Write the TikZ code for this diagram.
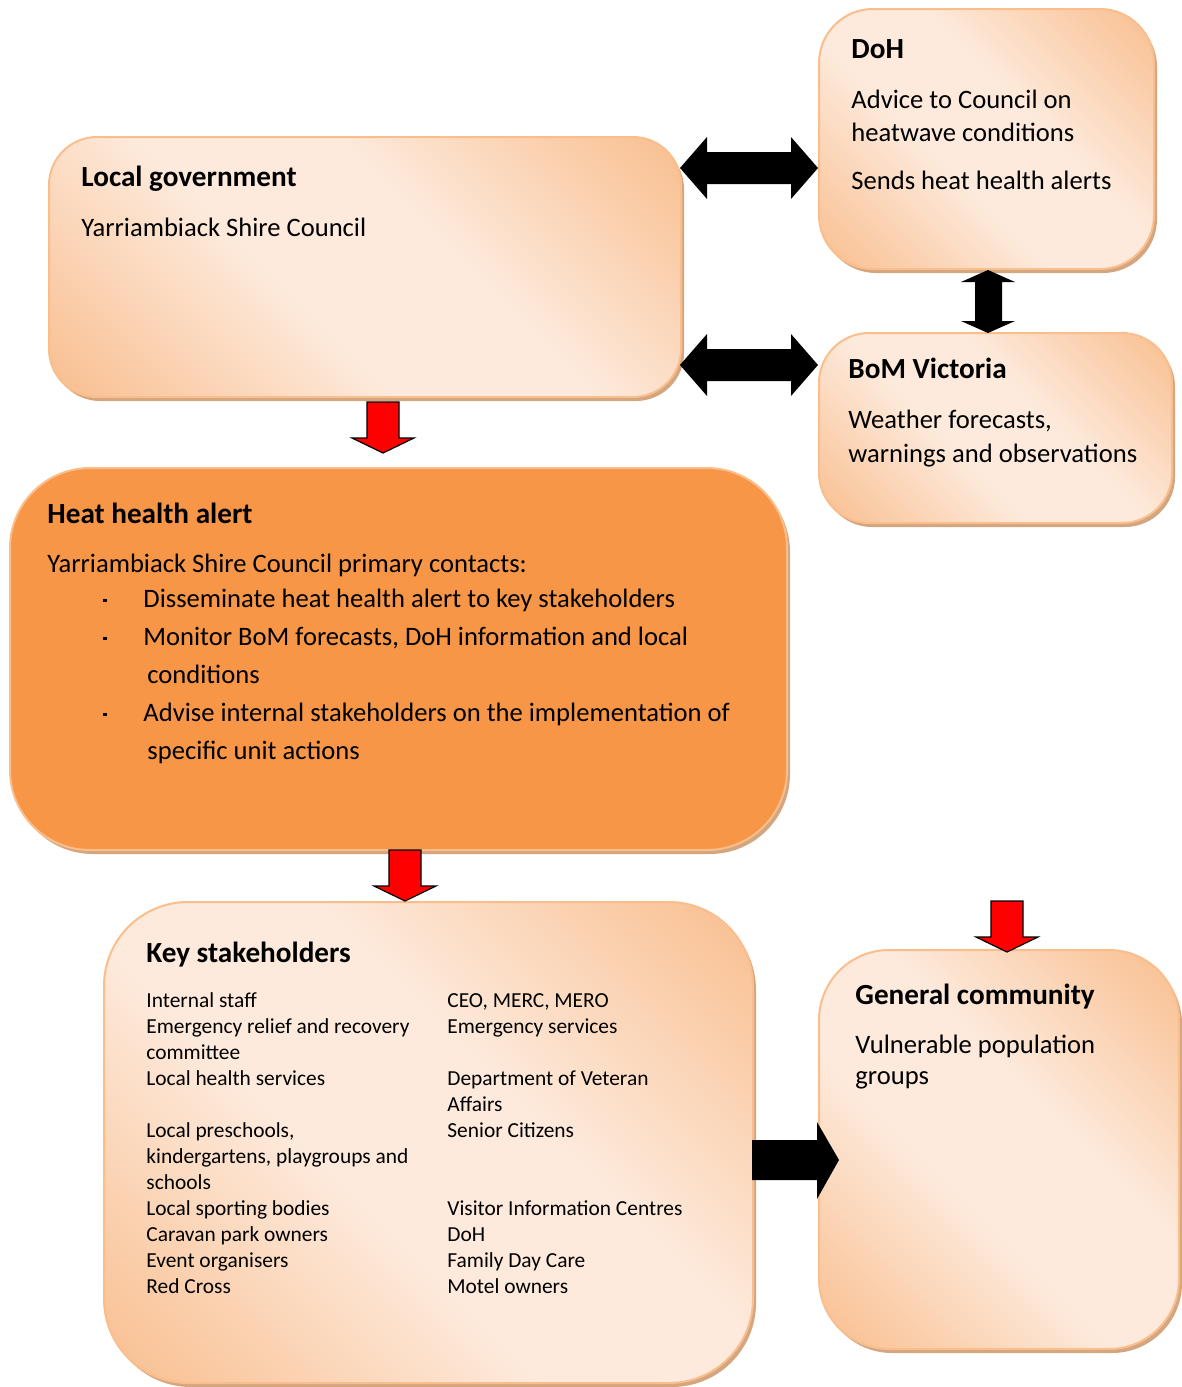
\documentclass[tikz,border=0pt]{standalone}
\usepackage{fontspec}
\setmainfont{Carlito}
\usetikzlibrary{shadows}
\definecolor{peachdark}{RGB}{249,192,146}
\definecolor{peachlight}{RGB}{253,234,220}
\definecolor{peachedge}{RGB}{250,190,140}
\definecolor{alertorange}{RGB}{247,150,70}
\definecolor{boxshadow}{RGB}{212,166,128}
\pgfdeclareverticalshading{peachband}{100bp}{color(0bp)=(peachdark); color(16bp)=(peachdark); color(42bp)=(peachlight); color(58bp)=(peachlight); color(84bp)=(peachdark); color(100bp)=(peachdark)}
\tikzstyle{box}=[anchor=north west, inner sep=0pt, draw=peachedge, line width=1pt, drop shadow={shadow xshift=1.5pt, shadow yshift=-2pt, fill=boxshadow, opacity=1}]
\tikzstyle{softbox}=[box, shade, shading=peachband, shading angle=-45]
\tikzstyle{alertbox}=[box, fill=alertorange]
\tikzstyle{boxtitle}=[anchor=base west, inner sep=0pt, font=\bfseries\fontsize{14.6}{17}\selectfont]
\tikzstyle{boxtext}=[anchor=base west, inner sep=0pt, font=\fontsize{13.3}{16.5}\selectfont]
\tikzstyle{listtext}=[anchor=base west, inner sep=0pt, font=\fontsize{10.7}{13}\selectfont]
\tikzstyle{redarrow}=[fill=red, draw=black, line width=0.6pt, line join=miter]
\newcommand{\sqbullet}{\rule[2.6pt]{1.6pt}{1.6pt}}

\begin{document}
\begin{tikzpicture}[x=0.5pt,y=-0.5pt]
\useasboundingbox (0,0) rectangle (1182,1387);
% boxes
\node[softbox, minimum width=316pt, minimum height=130pt, rounded corners=24pt] (lg) at (48,136) {};
\node[softbox, minimum width=167.5pt, minimum height=130pt, rounded corners=27pt] (doh) at (818,8) {};
\node[softbox, minimum width=176.5pt, minimum height=95pt, rounded corners=25pt] (bom) at (818,332) {};
\node[alertbox, minimum width=388.5pt, minimum height=191pt, rounded corners=40pt] (hha) at (9,467) {};
\node[softbox, minimum width=324.5pt, minimum height=240.5pt, rounded corners=42pt] (ks) at (103,901) {};
\node[softbox, minimum width=180pt, minimum height=199.5pt, rounded corners=35pt] (gc) at (818,949) {};

% local government
\node[boxtitle] (lgtitle) at (81,186) {Local government};
\node[boxtext] (lgtext) at (81,236) {Yarriambiack Shire Council};

% DoH
\node[boxtitle] (dohtitle) at (851,58) {DoH};
\node[boxtext] (dohtext) at (851,108) {\begin{tabular}[t]{@{}l@{}}Advice to Council on\\heatwave conditions\end{tabular}};
\node[boxtext] (dohalerts) at (851,189) {Sends heat health alerts};

% BoM
\node[boxtitle] (bomtitle) at (848,378) {BoM Victoria};
\node[boxtext, font=\fontsize{13.3}{17}\selectfont] (bomtext) at (848,428) {\begin{tabular}[t]{@{}l@{}}Weather forecasts,\\warnings and observations\end{tabular}};

% heat health alert
\node[boxtitle] (hhatitle) at (47,523) {Heat health alert};
\node[boxtext] (hhaintro) at (47,572) {Yarriambiack Shire Council primary contacts:};
\node[boxtext, font=\fontsize{13.3}{19}\selectfont] (hhalist) at (103,607) {\begin{tabular}[t]{@{}p{20pt}@{}l@{}}
\sqbullet & Disseminate heat health alert to key stakeholders\\
\sqbullet & Monitor BoM forecasts, DoH information and local\\
 & \hspace{2pt}conditions\\
\sqbullet & Advise internal stakeholders on the implementation of\\
 & \hspace{2pt}specific unit actions
\end{tabular}};

% key stakeholders
\node[boxtitle] (kstitle) at (146,962) {Key stakeholders};
\node[listtext] (ksleft) at (146,1007) {\begin{tabular}[t]{@{}l@{}}
Internal staff\\
Emergency relief and recovery\\
committee\\
Local health services\\
\\
Local preschools,\\
kindergartens, playgroups and\\
schools\\
Local sporting bodies\\
Caravan park owners\\
Event organisers\\
Red Cross
\end{tabular}};
\node[listtext] (ksright) at (447,1007) {\begin{tabular}[t]{@{}l@{}}
CEO, MERC, MERO\\
Emergency services\\
\\
Department of Veteran\\
Affairs\\
Senior Citizens\\
\\
\\
Visitor Information Centres\\
DoH\\
Family Day Care\\
Motel owners
\end{tabular}};

% general community
\node[boxtitle] (gctitle) at (855,1004) {General community};
\node[boxtext, font=\fontsize{13.3}{15.5}\selectfont] (gctext) at (855,1053) {\begin{tabular}[t]{@{}l@{}}Vulnerable population\\groups\end{tabular}};

% block arrows
\foreach \y in {168,365} {
	\fill (680,\y) -- (707,\y-31) -- (707,\y-16) -- (791,\y-16) -- (791,\y-31) -- (818,\y)
		-- (791,\y+31) -- (791,\y+16) -- (707,\y+16) -- (707,\y+31) -- cycle;
}
\fill (988,270) -- (1015,282) -- (1002,282) -- (1002,321) -- (1015,321) -- (988,333)
	-- (961,321) -- (975,321) -- (975,282) -- (961,282) -- cycle;
\fill (752,1140) -- (817,1140) -- (817,1122) -- (839,1160) -- (817,1199) -- (817,1180) -- (752,1180) -- cycle;
\foreach \x/\y in {383/402,405/850,1007/901} {
	\draw[redarrow] (\x-16,\y) -- (\x+16,\y) -- (\x+16,\y+36) -- (\x+31,\y+36) -- (\x,\y+51)
		-- (\x-31,\y+36) -- (\x-16,\y+36) -- cycle;
}
\end{tikzpicture}
\end{document}
